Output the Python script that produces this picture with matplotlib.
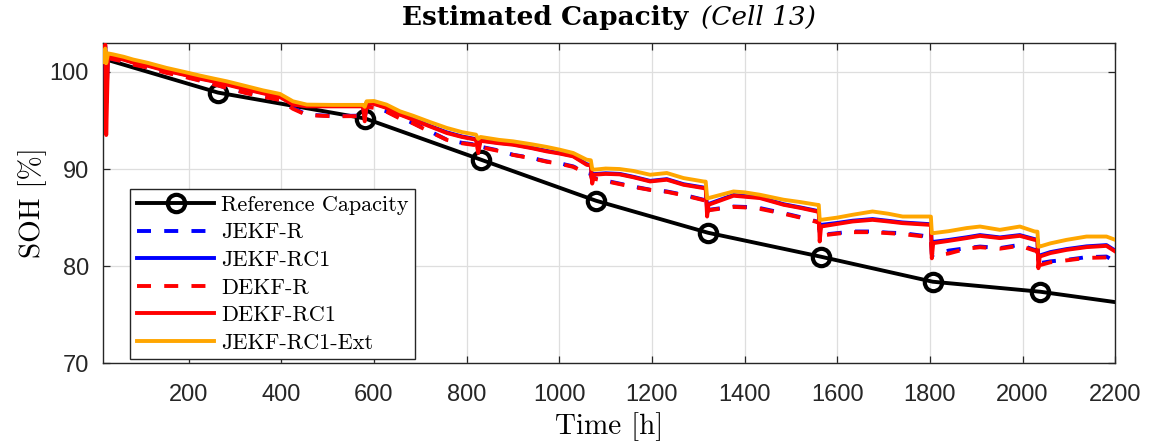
import matplotlib
matplotlib.use("Agg")
import matplotlib.pyplot as plt
from matplotlib.lines import Line2D

# Reference capacity (check-up measurements)
ref_t = [20, 263, 581, 831, 1079, 1321, 1565, 1806, 2038, 2200]
ref_soh = [101.3, 97.87, 95.2, 90.96, 86.74, 83.44, 80.97, 78.4, 77.37, 76.3]

# Common time base of the filter estimates [h]
est_t = [18, 20, 22, 26, 37, 60, 80, 110, 152, 190, 224, 255, 282, 325, 360, 397,
         425, 455, 511, 576, 580, 584, 600, 627, 656, 684, 720, 757, 790, 820, 825,
         830, 870, 900, 940, 973, 1000, 1030, 1059, 1068, 1071, 1075, 1100, 1130,
         1160, 1196, 1232, 1268, 1311, 1316, 1319, 1322, 1376, 1400, 1433, 1484,
         1520, 1556, 1560, 1562, 1565, 1600, 1633, 1676, 1710, 1741, 1798, 1802,
         1804, 1807, 1840, 1879, 1908, 1951, 1994, 2026, 2032, 2034, 2037, 2060,
         2095, 2138, 2181, 2200]

jekf_r = [101.0, 102.2, 99.6, 101.5, 101.3, 101.1, 100.8, 100.5, 99.95, 99.55,
          99.14, 98.75, 98.35, 97.84, 97.5, 97.14, 96.29, 95.6, 95.45, 95.5, 95.2,
          96.45, 96.3, 95.94, 95.26, 94.74, 93.9, 93.02, 92.7, 92.51, 92.1, 92.3,
          91.9, 91.47, 91.15, 90.78, 90.6, 90.27, 89.59, 89.5, 88.9, 89.07, 88.8,
          88.5, 88.2, 87.87, 87.69, 87.35, 86.84, 86.8, 85.6, 85.8, 86.14, 86.1,
          85.98, 85.46, 85.05, 84.6, 84.55, 83.2, 83.23, 83.4, 83.57, 83.57, 83.45,
          83.4, 83.05, 83.0, 81.3, 81.16, 81.6, 81.86, 82.02, 81.86, 82.2, 81.68,
          81.65, 80.31, 80.31, 80.5, 80.65, 80.93, 80.99, 80.47]

jekf_rc1 = [101.0, 102.6, 96.8, 101.8, 101.55, 101.3, 101.0, 100.7, 100.15, 99.75,
            99.35, 99.05, 98.75, 98.25, 97.85, 97.47, 96.7, 96.5, 96.5, 96.5, 95.4,
            96.85, 96.75, 96.35, 95.65, 95.15, 94.45, 93.78, 93.35, 93.08, 92.2,
            92.95, 92.7, 92.55, 92.2, 91.87, 91.65, 91.35, 90.5, 90.4, 89.0, 89.48,
            89.56, 89.5, 89.2, 88.78, 88.96, 88.44, 88.1, 88.06, 85.8, 86.4, 87.33,
            87.22, 87.08, 86.38, 86.05, 85.7, 85.67, 83.5, 84.25, 84.45, 84.68,
            84.85, 84.67, 84.5, 84.33, 84.3, 82.0, 82.5, 82.7, 82.97, 83.2, 82.96,
            83.2, 82.78, 82.75, 80.6, 81.1, 81.45, 81.76, 82.04, 82.17, 81.6]

dekf_r = [101.0, 102.1, 100.0, 101.4, 101.3, 101.05, 100.75, 100.45, 99.9, 99.5,
          99.1, 98.7, 98.35, 97.8, 97.45, 97.1, 96.2, 95.55, 95.43, 95.45, 95.26,
          96.4, 96.3, 95.9, 95.2, 94.7, 93.85, 93.0, 92.65, 92.45, 92.0, 92.25,
          91.85, 91.45, 91.1, 90.75, 90.55, 90.22, 89.55, 89.45, 88.8, 89.0, 88.75,
          88.45, 88.15, 87.85, 87.65, 87.3, 86.8, 86.75, 85.5, 85.75, 86.1, 86.05,
          85.9, 85.4, 85.0, 84.55, 84.5, 83.1, 83.15, 83.35, 83.5, 83.5, 83.4,
          83.3, 83.0, 82.95, 81.16, 81.1, 81.3, 81.8, 81.95, 81.8, 82.1, 81.6,
          81.55, 80.0, 80.1, 80.4, 80.6, 80.85, 80.9, 80.4]

dekf_rc1 = [101.0, 102.8, 93.5, 101.8, 101.5, 101.25, 100.95, 100.65, 100.1, 99.7,
            99.3, 99.0, 98.69, 98.18, 97.8, 97.42, 96.63, 96.45, 96.45, 96.45,
            94.91, 96.8, 96.7, 96.29, 95.6, 95.08, 94.4, 93.71, 93.3, 93.02, 91.65,
            92.9, 92.65, 92.5, 92.15, 91.81, 91.6, 91.3, 90.44, 90.35, 88.5, 89.41,
            89.5, 89.45, 89.15, 88.72, 88.9, 88.38, 88.04, 88.0, 85.11, 86.32,
            87.25, 87.15, 87.01, 86.32, 86.0, 85.63, 85.6, 82.54, 84.08, 84.35,
            84.6, 84.77, 84.6, 84.43, 84.26, 84.25, 80.81, 82.37, 82.6, 82.89,
            83.12, 82.89, 83.12, 82.71, 82.7, 79.79, 80.99, 81.35, 81.68, 81.96,
            82.09, 81.51]

jekf_rc1_ext = [101.0, 102.4, 100.9, 101.9, 101.8, 101.55, 101.27, 100.95, 100.41,
                100.0, 99.62, 99.3, 99.03, 98.52, 98.1, 97.73, 96.97, 96.63, 96.6,
                96.6, 96.4, 96.97, 97.0, 96.63, 95.94, 95.49, 94.85, 94.23, 93.8,
                93.54, 93.1, 93.3, 93.0, 92.85, 92.55, 92.27, 92.0, 91.65, 90.96,
                90.9, 90.0, 89.93, 90.05, 90.0, 89.8, 89.41, 89.59, 89.07, 88.72,
                88.7, 87.01, 87.01, 87.69, 87.6, 87.35, 86.84, 86.6, 86.32, 86.3,
                84.77, 84.77, 85.0, 85.29, 85.63, 85.4, 85.11, 85.11, 85.1, 83.4,
                83.4, 83.6, 83.92, 84.08, 83.74, 84.08, 83.57, 83.55, 82.02, 82.02,
                82.35, 82.71, 83.05, 83.05, 82.71]

x_ticks = [200, 400, 600, 800, 1000, 1200, 1400, 1600, 1800, 2000, 2200]
y_ticks = [70, 80, 90, 100]

series_labels = ["Reference Capacity", "JEKF-R", "JEKF-RC1", "DEKF-R", "DEKF-RC1",
                 "JEKF-RC1-Ext"]

tick_color = "#262626"
blue = (0, 0, 1)
red = (1, 0, 0)
orange = (1, 0.65, 0)

fig = plt.figure(figsize=(11.5, 4.47), dpi=100)
ax = fig.add_axes([0.0893, 0.1872, 0.8805, 0.7172])

lw = 2.8
dash = (3.6, 3.4)
ax.plot(ref_t, ref_soh, color="k", lw=lw, marker="o", markersize=12.5,
        markerfacecolor="none", markeredgewidth=3.0,
        markevery=list(range(1, len(ref_t) - 1)), zorder=2)
ax.plot(est_t, jekf_r, color=blue, lw=lw, linestyle=(0, dash), zorder=3)
ax.plot(est_t, jekf_rc1, color=blue, lw=lw, zorder=3)
ax.plot(est_t, dekf_r, color=red, lw=lw, linestyle=(2.8, dash), zorder=3)
ax.plot(est_t, dekf_rc1, color=red, lw=lw, zorder=3)
ax.plot(est_t, jekf_rc1_ext, color=orange, lw=lw, zorder=3)

ax.set_xlim(14.4, 2200)
ax.set_ylim(70, 103)
ax.set_xticks(x_ticks)
ax.set_yticks(y_ticks)
ax.grid(True, color="#dedede", lw=0.9)
ax.set_axisbelow(True)
ax.tick_params(direction="in", length=5, width=0.9, top=True, right=True,
               colors=tick_color, labelsize=17)
ax.tick_params(axis="x", pad=15)
ax.tick_params(axis="y", pad=10)
for lab in ax.get_xticklabels() + ax.get_yticklabels():
    lab.set_fontfamily("Liberation Sans")
for sp in ax.spines.values():
    sp.set_color(tick_color)
    sp.set_linewidth(1.0)

ax.set_xlabel("Time [h]", fontfamily="cmr10", fontsize=21, labelpad=4)
ax.set_ylabel("SOH [%]", fontfamily="cmr10", fontsize=21, labelpad=2)

# Legend entries drawn from plain line samples
handles = [
    Line2D([], [], color="k", lw=lw, marker="o", markersize=12.5,
           markerfacecolor="none", markeredgewidth=3.0),
    Line2D([], [], color=blue, lw=lw, linestyle=(0, dash)),
    Line2D([], [], color=blue, lw=lw),
    Line2D([], [], color=red, lw=lw, linestyle=(0, dash)),
    Line2D([], [], color=red, lw=lw),
    Line2D([], [], color=orange, lw=lw),
]
leg = ax.legend(handles, series_labels, loc="lower left",
                bbox_to_anchor=(0.027, 0.0125), borderaxespad=0,
                prop={"family": "cmr10", "size": 16}, frameon=True, fancybox=False,
                edgecolor=tick_color, framealpha=1, handlelength=3.5,
                handletextpad=0.3, labelspacing=0.36, borderpad=0.3)
leg.get_frame().set_linewidth(1.0)

# Title: bold part followed by italic part, centred over the axes
fig.canvas.draw()
renderer = fig.canvas.get_renderer()
t_bold = fig.text(0, 0.944, "Estimated Capacity", fontfamily="DejaVu Serif",
                  fontweight="bold", fontsize=19, ha="left", va="baseline", color="k")
t_ital = fig.text(0, 0.944, "(Cell 13)", fontfamily="DejaVu Serif",
                  style="italic", fontsize=19, ha="left", va="baseline", color="k")
wb = t_bold.get_window_extent(renderer).width
wi = t_ital.get_window_extent(renderer).width
gap = 13
fig_w = fig.get_figwidth() * fig.dpi
ax_box = ax.get_position()
cx = (ax_box.x0 + ax_box.x1) / 2 * fig_w
x0 = cx - (wb + gap + wi) / 2
t_bold.set_x(x0 / fig_w)
t_ital.set_x((x0 + wb + gap) / fig_w)

fig.savefig("out.png", dpi=100)
